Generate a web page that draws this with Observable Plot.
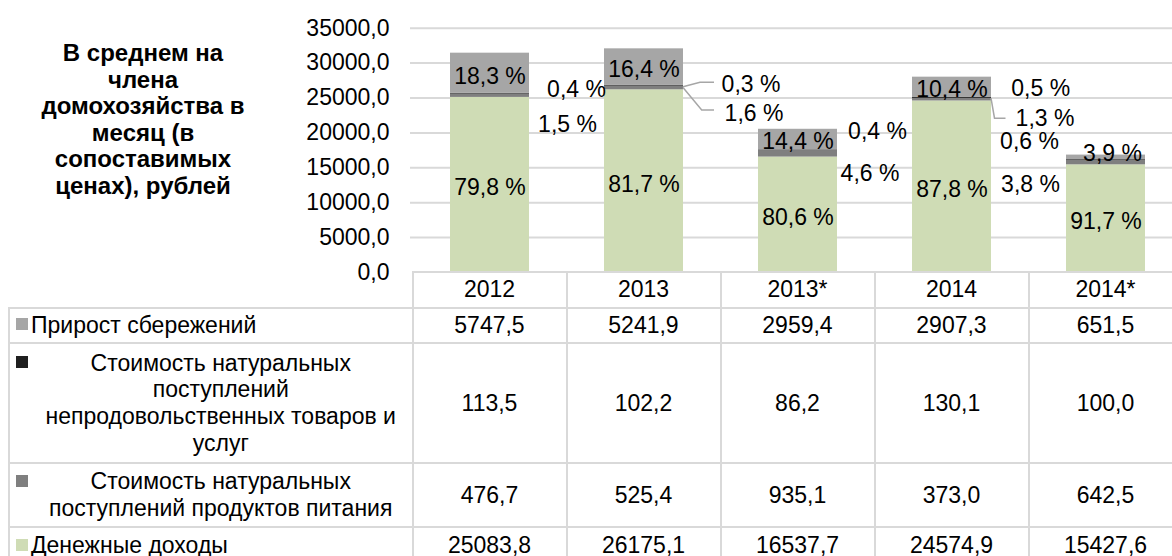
<!DOCTYPE html>
<html><head><meta charset="utf-8">
<script src="https://cdn.jsdelivr.net/npm/d3@7"></script>
<script src="https://cdn.jsdelivr.net/npm/@observablehq/plot@0.6"></script>
<style>
html,body{margin:0;padding:0;background:#fff;}
#wrap{position:relative;width:1172px;height:556px;overflow:hidden;font-family:"Liberation Sans",Arial,sans-serif;color:#000;}
#title{position:absolute;left:0;top:40px;width:286px;text-align:center;font-weight:bold;font-size:24px;line-height:26.6px;}
#chart{position:absolute;left:0;top:0;}
.hl{position:absolute;height:2px;background:#d9d9d9;}
.vl{position:absolute;width:2px;background:#d9d9d9;}
.cell{position:absolute;display:flex;align-items:center;justify-content:center;text-align:center;font-size:23px;line-height:26.7px;white-space:nowrap;}
.lcell{position:absolute;display:flex;align-items:center;font-size:23px;line-height:26.7px;white-space:nowrap;}
.key{position:absolute;width:12px;height:12px;}
</style></head>
<body><div id="wrap"><div id="chart"></div><div id="title"></div><div id="table"></div></div>
<script>
// ---- data ----
const years = ["2012", "2013", "2013*", "2014", "2014*"];
const money = [25083.8, 26175.1, 16537.7, 24574.9, 15427.6];
const food = [476.7, 525.4, 935.1, 373.0, 642.5];
const nonFood = [113.5, 102.2, 86.2, 130.1, 100.0];
const savings = [5747.5, 5241.9, 2959.4, 2907.3, 651.5];
const seriesNames = [
  "Денежные доходы",
  "Стоимость натуральных поступлений продуктов питания",
  "Стоимость натуральных поступлений непродовольственных товаров и услуг",
  "Прирост сбережений"
];
const yTicks = [0, 5000, 10000, 15000, 20000, 25000, 30000, 35000];
const titleLines = ["В среднем на", "члена", "домохозяйства в", "месяц (в", "сопоставимых", "ценах), рублей"];
// table rows top to bottom (series index), with the wrapped label lines
const tableOrder = [3, 2, 1, 0];
const tableLabelLines = [
  ["Прирост сбережений"],
  ["Стоимость натуральных", "поступлений", "непродовольственных товаров и", "услуг"],
  ["Стоимость натуральных", "поступлений продуктов питания"],
  ["Денежные доходы"]
];

// ---- styles / placement ----
const colors = ["#CFDCB5", "#7F7F7F", "#1F1F1F", "#A6A6A6"];
// label offsets [dx, dy] in px relative to segment middle, per series per year
const labelOffsets = [
  [[0,3],[0,3],[0,3],[0,2.5],[0,2.5]],
  [[77.5,28.7],[110,25.5],[72,19.4],[93,19.3],[-75.5,22.4]],
  [[86.5,-4],[107,-1.3],[79.5,-18.7],[88.7,-9.1],[-76.5,-18.5]],
  [[0,3],[0,2.2],[0,2],[0,2.2],[6.5,-4.2]]
];
// leader lines: [series, year index, points relative to (bar right edge, segment middle)]
const leaders = [
  [2, 1, [[0,1.5],[17,-3],[31,-3]]],
  [1, 1, [[0,0],[18.7,22.5],[31,22.5]]],
  [1, 3, [[0,-1],[3.5,19],[14.5,19]]]
];
const rowEdges = [272, 307.5, 343, 463, 527, 564];
const tableLeft = 9;
const FONT = "'Liberation Sans', Arial, sans-serif";

const fmt1 = d => d3.format(".1f")(d).replace(".", ",");
const seriesValues = [money, food, nonFood, savings];
const totals = years.map((_, i) => seriesValues.reduce((s, a) => s + a[i], 0));

const rows = [];
years.forEach((yr, i) => {
  let base = 0;
  seriesValues.forEach((arr, j) => {
    const v = arr[i];
    rows.push({year: yr, series: seriesNames[j], value: v, j, i, mid: base + v / 2,
      pct: fmt1(v / totals[i] * 100) + " %"});
    base += v;
  });
});

const H = 292;
const labelMarks = rows.map(r => Plot.text([r], {
  x: "year", y: "mid", text: "pct",
  dx: labelOffsets[r.j][r.i][0], dy: labelOffsets[r.j][r.i][1],
  fill: "#000", fontSize: 23
}));

const chart = Plot.plot({
  width: 1172, height: H,
  marginLeft: 410, marginRight: 0, marginTop: 27.7, marginBottom: H - 272,
  style: {fontFamily: FONT, fontSize: "23px", color: "#000", background: "transparent", overflow: "visible"},
  x: {type: "band", domain: years, range: [410, 1184.5], paddingInner: 0.49, paddingOuter: 0.245, axis: null},
  y: {domain: [0, 35000], ticks: 7, tickFormat: fmt1, tickSize: 0, tickPadding: 21, label: null},
  color: {domain: seriesNames, range: colors},
  marks: [
    Plot.ruleY(yTicks.filter(t => t > 0), {stroke: "#d9d9d9", strokeWidth: 2}),
    Plot.barY(rows, {x: "year", y: "value", fill: "series", inset: 0}),
    ...labelMarks
  ]
});
document.getElementById("chart").appendChild(chart);

const sx = chart.scale("x"), sy = chart.scale("y");
const bw = sx.bandwidth;
const step = sx.step || (bw / (1 - 0.49));
const center = yr => sx.apply(yr) + bw / 2;

// leader lines
const svg = d3.select(chart);
leaders.forEach(([j, i, pts]) => {
  const r = rows.find(d => d.j === j && d.i === i);
  const x0 = center(years[i]) + bw / 2, y0 = sy.apply(r.mid);
  svg.append("path")
    .attr("d", d3.line()(pts.map(([dx, dy]) => [x0 + dx, y0 + dy])))
    .attr("fill", "none").attr("stroke", "#A6A6A6").attr("stroke-width", 1.5);
});

// title
document.getElementById("title").innerHTML = titleLines.join("<br>");

// table
const tbl = document.getElementById("table");
const add = (cls, css, html) => {
  const d = document.createElement("div"); d.className = cls;
  Object.assign(d.style, css); if (html != null) d.innerHTML = html; tbl.appendChild(d); return d;
};
const colEdges = years.map(y => center(y) - step / 2);
const rightEdge = center(years[years.length - 1]) + step / 2;
const firstCol = colEdges[0];
// horizontal lines
rowEdges.forEach((y, k) => {
  const x1 = k === 0 ? firstCol : tableLeft;
  add("hl", {left: (x1 - 1) + "px", top: (y - 1) + "px", width: (rightEdge - x1 + 2) + "px"});
});
// vertical lines
add("vl", {left: (tableLeft - 1) + "px", top: (rowEdges[1] - 1) + "px", height: (rowEdges[5] - rowEdges[1] + 2) + "px"});
colEdges.concat([rightEdge]).forEach(x => {
  add("vl", {left: (x - 1) + "px", top: (rowEdges[0] - 1) + "px", height: (rowEdges[5] - rowEdges[0] + 2) + "px"});
});
// header
years.forEach((yr, i) => add("cell", {left: colEdges[i] + "px", width: step + "px", top: rowEdges[0] + "px", height: (rowEdges[1] - rowEdges[0]) + "px"}, yr));
// rows
tableOrder.forEach((j, r) => {
  const top = rowEdges[r + 1], h = rowEdges[r + 2] - top;
  years.forEach((yr, i) => add("cell", {left: colEdges[i] + "px", width: step + "px", top: top + "px", height: h + "px"}, fmt1(seriesValues[j][i])));
  const lines = tableLabelLines[r];
  const blockH = lines.length * 26.7;
  const textTop = top + (h - blockH) / 2;
  add("key", {left: "16px", top: (textTop + 13.35 - 7) + "px", background: colors[j]});
  if (lines.length === 1) {
    add("lcell", {left: "31px", top: top + "px", height: h + "px"}, lines[0]);
  } else {
    add("cell", {left: "31px", width: (firstCol - 33) + "px", top: top + "px", height: h + "px", flexDirection: "column"}, lines.map(l => "<div>" + l + "</div>").join(""));
  }
});
</script>
</body></html>
